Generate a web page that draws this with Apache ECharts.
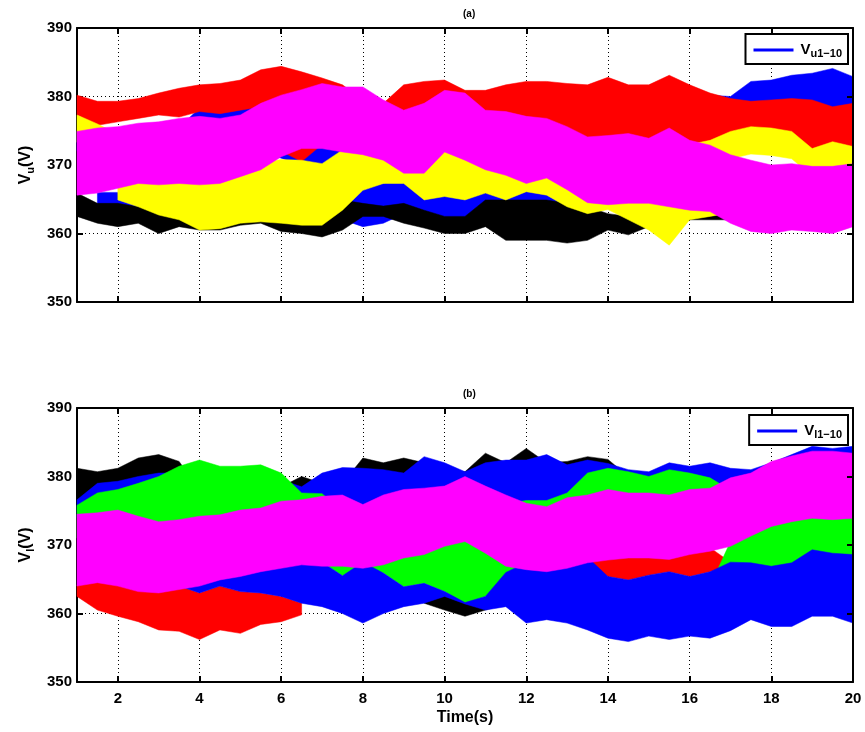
<!DOCTYPE html>
<html><head><meta charset="utf-8">
<script src="https://cdn.jsdelivr.net/npm/echarts@6/dist/echarts.min.js"></script>
<style>html,body{margin:0;padding:0;background:#fff}#c{width:865px;height:732px}</style>
</head><body><div id="c"></div>
<script>
// time samples (s)
const T = [1,1.5,2,2.5,3,3.5,4,4.5,5,5.5,6,6.5,7,7.5,8,8.5,9,9.5,10,10.5,11,11.5,12,12.5,13,13.5,14,14.5,15,15.5,16,16.5,17,17.5,18,18.5,19,19.5,20];
const xTicks = [2,4,6,8,10,12,14,16,18,20];
const yTicks = [350,360,370,380,390];
const _ = null;

// ---- (a) upper-arm voltages: band envelopes (V) ----
const aBlueHiUp = [375,375,375,375,375,375.5,378.3,378.3,378.5,379.5,379,378,376,375,375,375,375,375,376,376,375,375,375,374,374,373,373,373,373,374,378,380.2,380,382.2,382.4,383.1,383.4,384.1,382.9];
const aBlueHiLo = [372,372,372,372,372,372,372,372,372,372,371,370,369.8,370.5,371,371,371,371,372,372,371,371,370,370,369,368.5,368.5,368.5,368.5,369,371,372,372,372,372,372,372,372,372];
const aBlueLoUp = [_,366,366,365,365,365,364,364,364,364,364,364,364,366,366.6,367.3,368,365.8,366,365.8,366.6,365.8,367,366.5,364.5,363.5,_,_,_,_,_,_,_,_,_,_,_,_,_];
const aBlueLoLo = [_,363,363,362,362,362,362,362,362,362,362,362,362,362,361,361.5,362.9,362.5,362,362,363.9,363.9,364.9,363.9,363,362.5,_,_,_,_,_,_,_,_,_,_,_,_,_];
const aBlackUp = [365.9,364.4,364.4,363.9,364,364,364,364,364,364,363.5,363,363,364.9,364.4,364,364.4,363.4,362.5,362.5,364.9,364.9,364.9,364.9,364.4,363.9,362.9,362.5,363,363.5,363.5,363.5,363,363,363,363,363,363,363];
const aBlackLo = [362.5,361.5,361,361.5,360,361,360.5,360.5,361.2,361.5,360.3,360,359.5,360.5,362.5,362.5,361.5,360.8,360,360,361,359,359,359,358.6,359,360.5,359.8,361,362,362,362,362,362,362,362,362,362,362];
const aRedUp = [380.2,379.3,379.3,379.7,380.5,381.2,381.7,381.9,382.4,383.9,384.4,383.6,382.7,381.7,379.5,379.0,381.7,382.2,382.4,380.9,380.9,381.7,382.2,382.2,381.9,381.7,382.8,381.7,381.7,383.1,381.7,380.5,379.7,379.3,379.5,379.7,379.5,378.5,379.0];
const aRedLo = [377.3,375.8,376.3,376.8,377.3,377,377.8,377.5,378,378.5,372,370.5,373,372,374,374,374,374,374,374,374,375,376.8,376.1,375.1,373.7,373.8,373.9,373.7,374.4,373.4,372.7,372,372,372,372,371.5,371.5,371];
const aYellowHiUp = [377.3,376,374.5,374.5,375,375,375.5,375.5,375.5,377,378,378,378,378,378,377,376,377,378,378,376.5,376.5,376.3,375.5,374.5,373.7,373,373,372.5,373,373,373.6,374.9,375.6,375.4,374.9,372.4,373.4,372.7];
const aYellowHiLo = [373.3,372,370.5,370.5,371,371,371.5,371.5,371.5,373,374,374,374,374,374,373,372,373,374,374,372.5,372.5,372.3,371.5,370.5,369.7,369,369,368.5,369,369,369.6,370.9,371.6,371.4,370.9,368.4,369.4,368.7];
const aYellowLoUp = [_,_,368,368.8,368.6,368.8,368.6,368.8,369.5,370.3,370.8,370.7,370.2,372.2,373,372.2,370.3,370.3,373.4,372.2,370.8,370,368.8,369.6,367.9,366,365.7,365.9,365.9,365.4,364,364,366,366,366,366,366,366,366];
const aYellowLoLo = [_,_,364.9,363.9,362.7,362,360.5,360.7,361.5,361.7,361.5,361.2,361.2,363.4,366.3,367.3,367.3,364.9,365.4,364.9,365.9,364.9,366.1,365.6,363.9,362.9,363.5,362,360.5,358.3,362,362.5,363,363,363,363,363,363,363];
const aMagentaUp = [374.9,375.4,375.6,376.1,376.3,376.8,377.1,376.8,377.3,379,380.2,381,381.9,381.4,381.4,379.5,378,379,380.9,380.5,378,377.8,377.1,376.8,375.6,374.1,374.3,374.6,373.9,375.4,373.6,372.9,371.5,370.7,370,370.2,369.8,369.8,370.2];
const aMagentaLo = [365.6,365.9,366.6,367.3,367.1,367.3,367.1,367.3,368.3,369.3,371.2,372.4,372.4,371.9,371.5,370.7,368.8,368.8,371.9,370.7,369.3,368.5,367.3,368.1,366.4,364.5,364.2,364.4,364.4,363.9,363.4,363.2,361.5,360.3,360,360.5,360.3,360,361];

// ---- (b) lower-arm voltages: band envelopes (V) ----
const bBlackUp = [381.2,380.7,381.2,382.7,383.2,382.2,378,378,378,378,378.5,380,379,379,382.7,382,382.7,382,381,380.7,383.4,382,384.1,382,382.2,382.9,382.5,380,379,379,379,379,379,379,379,379,379,379,379];
const bBlackLo = [375,375,375,375,375,375,375,375,375,375,375,375,375,375,375,375,375,375,375,375,375,375,375,375,375,375,375,375,375,375,375,375,375,375,375,375,375,375,375];
const bBlack2Up = [_,_,_,_,_,_,_,_,_,_,_,_,_,_,_,_,_,362,363,362,362,362,_,_,_,_,_,_,_,_,_,_,_,_,_,_,_,_,_];
const bBlack2Lo = [_,_,_,_,_,_,_,_,_,_,_,_,_,_,_,_,_,361.5,360.5,359.6,360.5,361.5,_,_,_,_,_,_,_,_,_,_,_,_,_,_,_,_,_];
const bRedUp = [364.2,364.9,365.2,364,363.5,364,363,364,363.2,363,362.5,361.5,_,_,_,_,_,_,_,_,_,_,_,_,_,_,_,_,_,_,_,_,_,_,_,_,_,_,_];
const bRedLo = [362.5,360.5,359.6,358.8,357.6,357.4,356.2,357.6,357.1,358.4,358.8,359.8,_,_,_,_,_,_,_,_,_,_,_,_,_,_,_,_,_,_,_,_,_,_,_,_,_,_,_];
const bRed2Up = [_,_,_,_,_,_,_,_,_,_,_,_,_,_,_,_,_,_,_,_,_,_,_,_,_,367.5,368.8,368.8,368.8,368.5,369.2,369.6,367.5,_,_,_,_,_,_];
const bRed2Lo = [_,_,_,_,_,_,_,_,_,_,_,_,_,_,_,_,_,_,_,_,_,_,_,_,_,367.2,365.4,364.9,365.6,366.1,365.4,366.1,367,_,_,_,_,_,_];
const bGreenLoUp = [_,_,_,_,_,_,_,_,_,_,_,_,368,369,369,369,370,370.5,371.5,372,370.5,368.5,368,366,365,364,364,364,364,364,364,364,370.5,372,373.5,374,374.5,374.5,374.5];
const bGreenLoLo = [_,_,_,_,_,_,_,_,_,_,_,_,367.5,365.5,367,365.9,363.9,364.4,363.2,361.5,362.5,364,365,362,361,360,360,360,360,360,360,360,364,364,364,364,364,364,364];
const bBlueLoUp = [_,_,_,_,_,364.5,365,366,366.4,367,367.5,368,367.5,365.5,367.5,365.9,363.9,364.4,363.2,361.6,362.5,366,367.4,367.1,367.6,368.2,365.4,364.9,365.6,366.1,365.4,366.1,367.5,367.4,366.9,367.4,369.3,368.8,368.6];
const bBlueLoLo = [_,_,_,_,_,364,363,364,363.2,363,362.5,361.5,361,360,358.6,360,361,361.5,362.5,361.4,360.5,361,358.6,359.1,358.6,357.6,356.4,355.9,356.7,356.2,356.7,356.4,357.5,359.1,358.1,358.1,359.6,359.6,358.6];
const bBlueHiUp = [376.6,379,379.3,380,380.5,380.5,380,380,380,380,379.5,378.5,380.5,381.3,381.2,381,380.5,382.9,382,380.7,382,382.4,382.4,383.2,381.7,382.4,381.9,381,380.7,382,381.5,382,381.2,381,382,383.2,384.4,384.1,384.4];
const bBlueHiLo = [374,374,374,374,374,374,374,374,374,374,374,374,374,374,374,374,374,374,374,374,374,374,374,374,374,374,374,374,374,374,374,374,374,374,374,374,374,374,374];
const bGreenHiUp = [375.8,377.6,378.1,379,380,381.5,382.4,381.5,381.5,381.7,380.5,377.6,377.5,375,374,375,376,376,376,376,376,376,376.5,376.5,377.6,380.5,381.2,380.7,380,381,380.5,379.8,378,377,377,377,377,377,377];
const bGreenHiLo = [371,371,371,371,371,371,371,371,371,371,371,371,372,372,372,372,372,372,372,372,372,372,372,372,372,372,372,372,372,372,372,372,374.5,374.5,374.5,374.5,374.5,374.5,374.5];
const bMagentaUp = [374.5,374.7,375.1,374.2,373.4,373.7,374.2,374.4,375.1,375.4,376.4,376.6,377.1,377.3,375.9,377.3,378.1,378.3,378.6,380,378.6,377.3,376.1,375.6,376.9,377.3,378.1,377.6,377.6,377.3,378.1,378.3,379.8,380.5,382.2,383,383.7,383.7,383.4];
const bMagentaLo = [364,364.5,364,363.2,363,363.5,364,364.9,365.4,366.1,366.6,367.1,366.9,366.9,366.6,367.1,368.1,368.6,369.8,370.5,368.8,366.9,366.4,366.1,366.6,367.4,367.8,368.1,368.1,367.9,368.6,369.1,369.8,371.3,372.7,373.4,373.9,373.7,373.9];

const C = {blue:'#0000FF', black:'#000000', red:'#FF0000', yellow:'#FFFF00', magenta:'#FF00FF', green:'#00FF00'};
const FONT = 'Liberation Sans, Arial, sans-serif';

// one custom series per band; each data item is a contiguous run [startIndex, endIndex]
function band(name, color, lo, hi, g) {
  const segs = []; let s = -1;
  for (let i = 0; i < T.length; i++) {
    const ok = lo[i] != null && hi[i] != null;
    if (ok && s < 0) s = i;
    if (!ok && s >= 0) { segs.push([s, i - 1]); s = -1; }
  }
  if (s >= 0) segs.push([s, T.length - 1]);
  return {
    type:'custom', name:name, xAxisIndex:g*2, yAxisIndex:g*2, silent:true, animation:false, z:2,
    itemStyle:{color:color}, data:segs, encode:{x:-1, y:-1},
    renderItem:function(params, api) {
      const a = api.value(0), b = api.value(1), pts = [];
      for (let i = a; i <= b; i++) pts.push(api.coord([T[i], hi[i]]));
      for (let i = b; i >= a; i--) pts.push(api.coord([T[i], lo[i]]));
      return {type:'polygon', shape:{points:pts}, style:{fill:color, stroke:color, lineWidth:0.5}};
    }
  };
}

const series = [
  band('Vu1-10',C.blue,aBlueHiLo,aBlueHiUp,0),
  band('a_blue2',C.blue,aBlueLoLo,aBlueLoUp,0),
  band('a_black',C.black,aBlackLo,aBlackUp,0),
  band('a_red',C.red,aRedLo,aRedUp,0),
  band('a_yellow1',C.yellow,aYellowHiLo,aYellowHiUp,0),
  band('a_yellow2',C.yellow,aYellowLoLo,aYellowLoUp,0),
  band('a_magenta',C.magenta,aMagentaLo,aMagentaUp,0),
  band('b_black',C.black,bBlackLo,bBlackUp,1),
  band('b_black2',C.black,bBlack2Lo,bBlack2Up,1),
  band('b_red',C.red,bRedLo,bRedUp,1),
  band('b_red2',C.red,bRed2Lo,bRed2Up,1),
  band('b_green2',C.green,bGreenLoLo,bGreenLoUp,1),
  band('b_blue2',C.blue,bBlueLoLo,bBlueLoUp,1),
  band('Vl1-10',C.blue,bBlueHiLo,bBlueHiUp,1),
  band('b_green1',C.green,bGreenHiLo,bGreenHiUp,1),
  band('b_magenta',C.magenta,bMagentaLo,bMagentaUp,1)
];

// bottom / left axes sit under the data (grid lines hidden by the bands); top / right frame sits above
function xAx(g, pos, labels, extra) {
  const front = pos === 'top';
  return Object.assign({type:'value', gridIndex:g, position:pos, min:1, max:20,
    axisLine:{show:true, onZero:false, lineStyle:{color:'#000', width:2}},
    axisTick:{show:true, inside:true, length:6, lineStyle:{color:'#000', width:2}, customValues:xTicks},
    axisLabel:{show:labels, customValues:xTicks, color:'#000', fontWeight:'bold', fontSize:15, margin:9, fontFamily:FONT},
    splitLine:{show:pos==='bottom', lineStyle:{color:'#000', type:[1,3], width:1}}, z: front ? 5 : 0
  }, extra||{});
}
function yAx(g, pos, labels, extra) {
  const front = pos === 'right';
  return Object.assign({type:'value', gridIndex:g, position:pos, min:350, max:390, interval:10,
    axisLine:{show:true, onZero:false, lineStyle:{color:'#000', width:2}},
    axisTick:{show:true, inside:true, length:6, lineStyle:{color:'#000', width:2}},
    axisLabel:{show:labels, color:'#000', fontWeight:'bold', fontSize:15, margin:5, fontFamily:FONT, showMinLabel:true, showMaxLabel:true},
    splitLine:{show:pos==='left', lineStyle:{color:'#000', type:[1,3], width:1}}, z: front ? 5 : 0
  }, extra||{});
}
function yName(sub) {
  return {name:'{v|V}{s|'+sub+'}{v|(V)}', nameLocation:'middle', nameGap:40, nameRotate:90,
    nameTextStyle:{rich:{v:{fontSize:16, fontWeight:'bold', fontFamily:FONT, color:'#000', lineHeight:20},
      s:{fontSize:11, fontWeight:'bold', fontFamily:FONT, color:'#000', lineHeight:20, verticalAlign:'bottom', padding:[8,0,0,0]}}}};
}
function legend(top, name, sub) {
  return {show:true, top:top, right:17, orient:'vertical', data:[{name:name, icon:'rect'}],
    itemWidth:40, itemHeight:3, itemGap:0, padding:[7,6,5,8], selectedMode:false, z:10,
    borderColor:'#000', borderWidth:2, backgroundColor:'#fff',
    itemStyle:{color:C.blue},
    formatter:()=> '{v|V}{s|'+sub+'}',
    textStyle:{padding:[0,0,0,2], rich:{v:{fontSize:15, fontWeight:'bold', fontFamily:FONT, color:'#000', lineHeight:18},
      s:{fontSize:11, fontWeight:'bold', fontFamily:FONT, color:'#000', lineHeight:18, verticalAlign:'bottom', padding:[7,0,0,0]}}}};
}

const option = {
  animation:false,
  backgroundColor:'#fff',
  title:[
    {text:'(a)', left:458, top:4, textStyle:{fontSize:10, fontWeight:'bold', fontFamily:FONT, color:'#000'}},
    {text:'(b)', left:458, top:384, textStyle:{fontSize:10, fontWeight:'bold', fontFamily:FONT, color:'#000'}}
  ],
  legend:[legend(34,'Vu1-10','u1−10'), legend(415,'Vl1-10','l1−10')],
  grid:[
    {left:77, right:12, top:28, height:274, containLabel:false},
    {left:77, right:12, top:408, height:274, containLabel:false}
  ],
  xAxis:[
    xAx(0,'bottom',false), xAx(0,'top',false),
    xAx(1,'bottom',true,{name:'Time(s)', nameLocation:'middle', nameGap:28,
      nameTextStyle:{fontSize:16, fontWeight:'bold', fontFamily:FONT, color:'#000'}}),
    xAx(1,'top',false)
  ],
  yAxis:[
    yAx(0,'left',true,yName('u')), yAx(0,'right',false),
    yAx(1,'left',true,yName('l')), yAx(1,'right',false)
  ],
  series:series
};
const chart = echarts.init(document.getElementById('c'), null, {renderer:'canvas'});
chart.setOption(option);
</script>
</body></html>
